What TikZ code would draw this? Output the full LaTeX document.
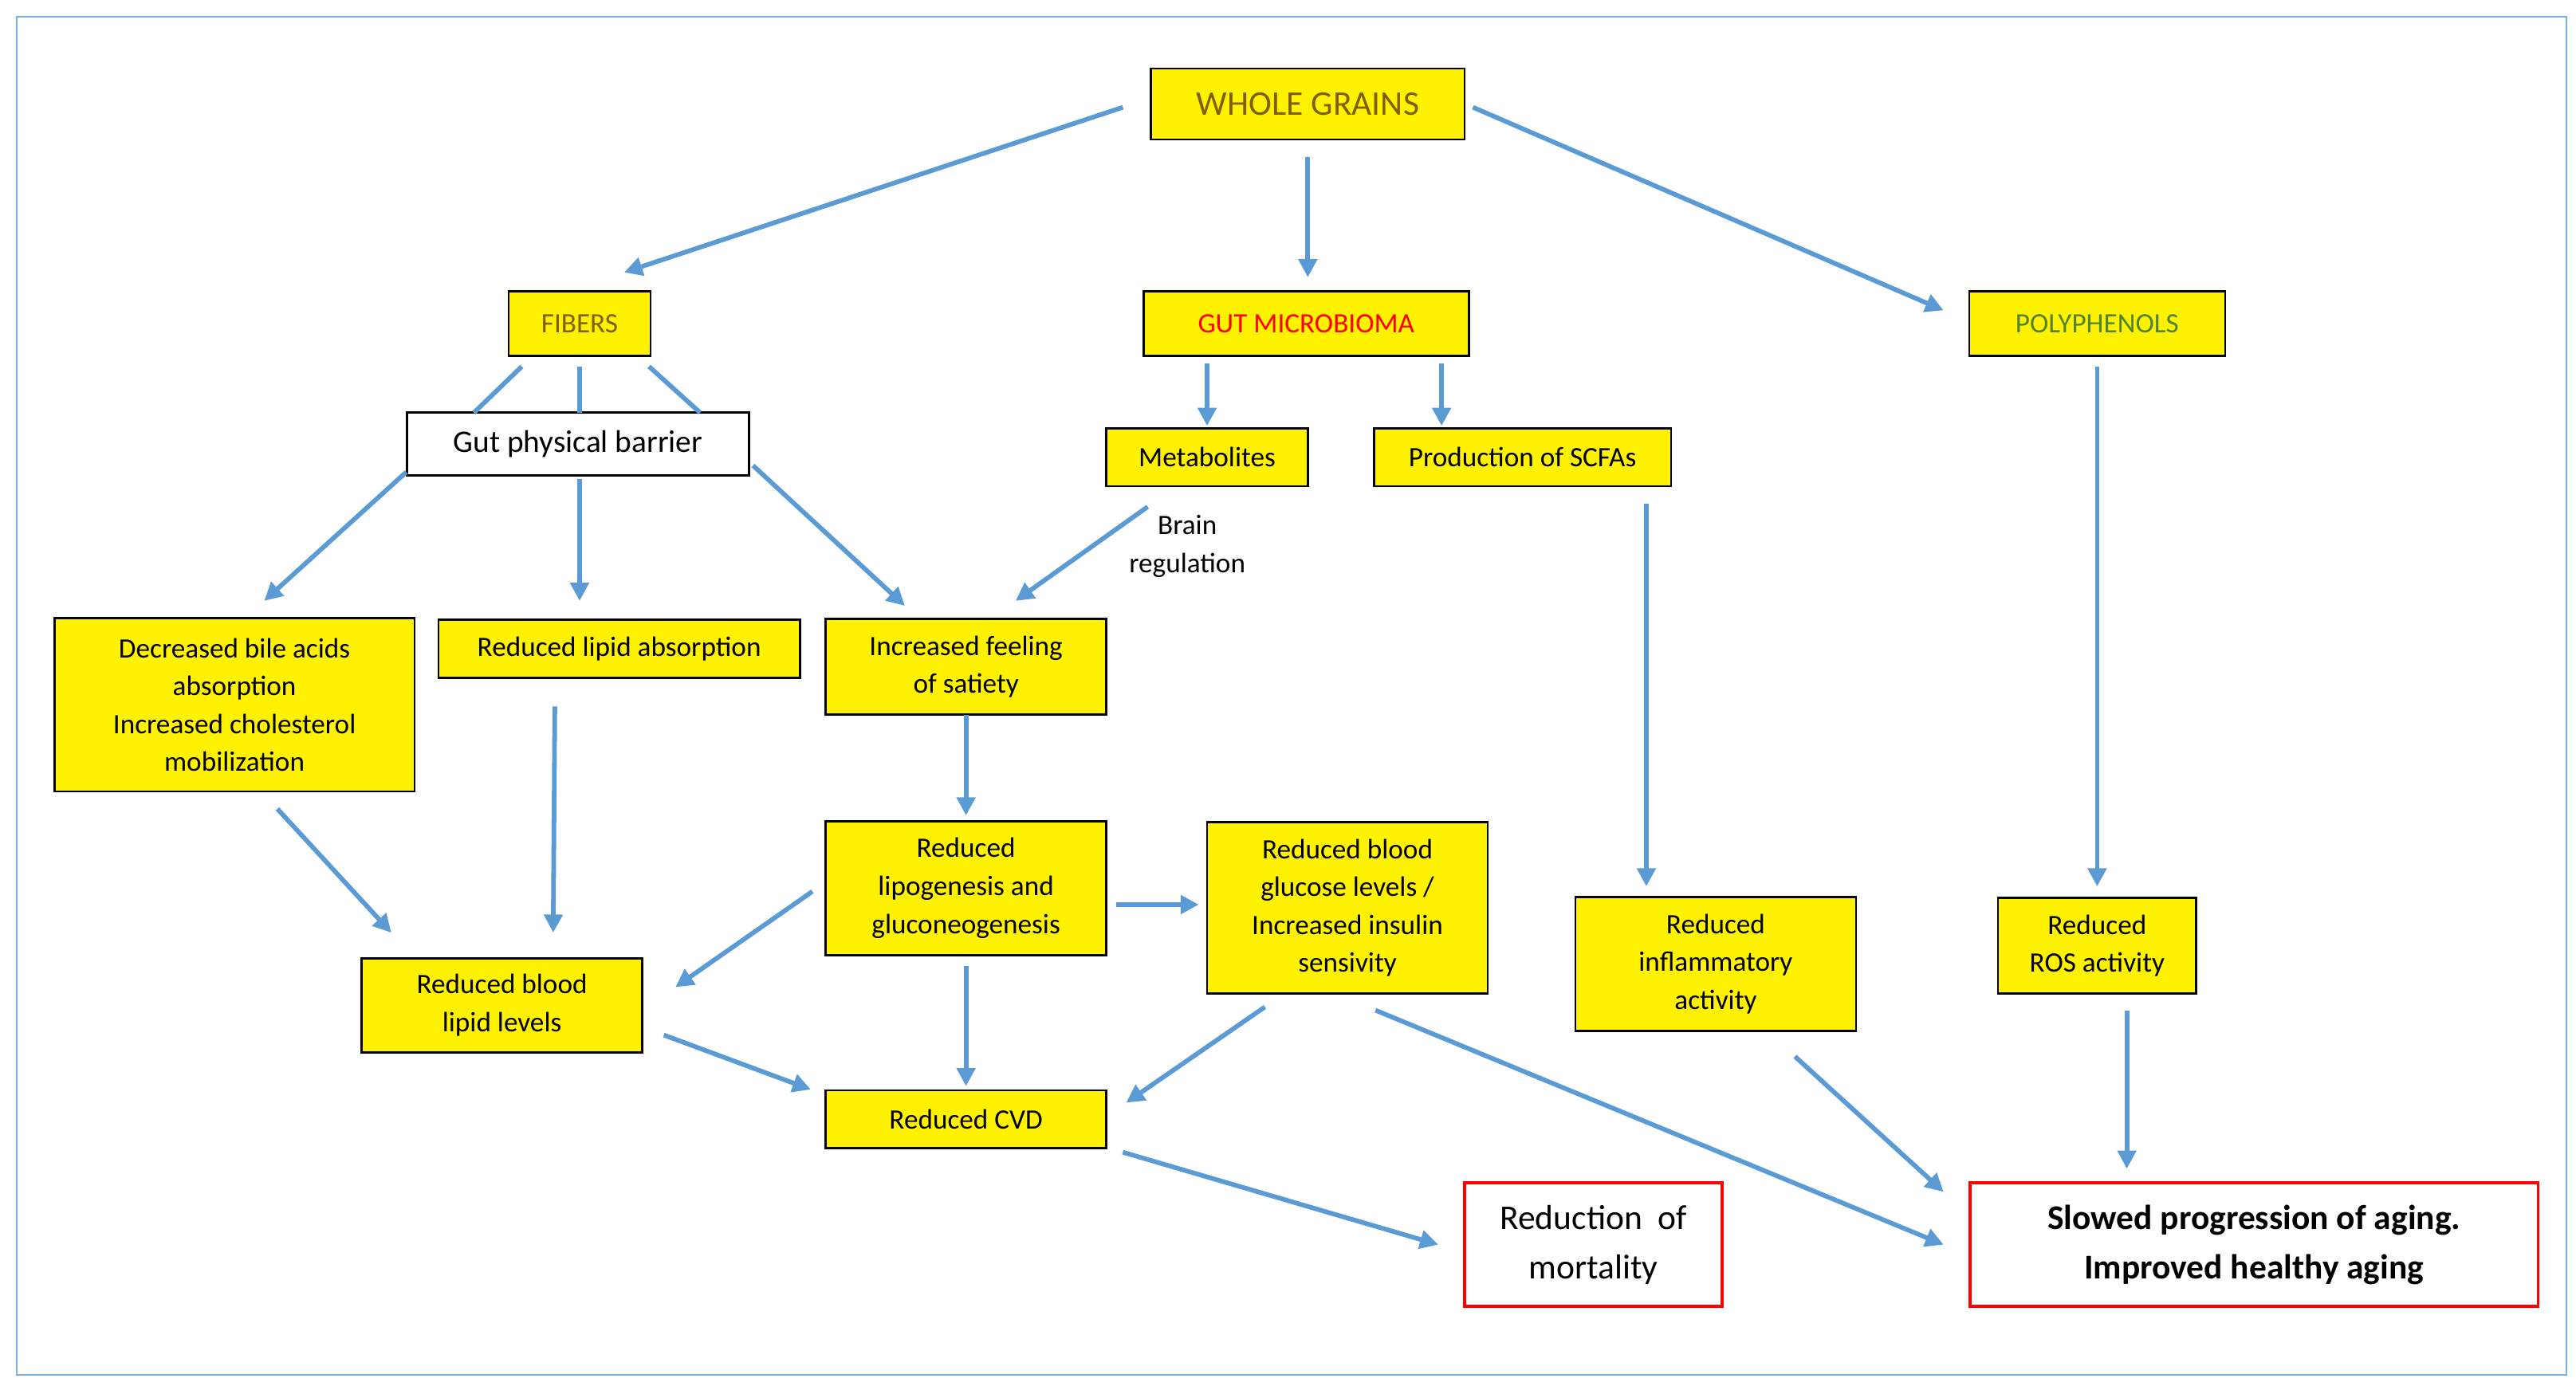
\documentclass[tikz,border=0pt]{standalone}
\usepackage{fontspec}
\setmainfont{Carlito}
\usetikzlibrary{arrows.meta}
\definecolor{arr}{HTML}{5B9BD5}
\definecolor{olivet}{HTML}{7F6000}
\definecolor{greent}{HTML}{548235}
\begin{document}
\begin{tikzpicture}[x=1pt,y=-1pt,
 box/.style={draw=black,line width=1.3pt,fill=yellow,align=center,inner sep=0pt,font=\fontsize{17}{23}\selectfont},
 wbox/.style={draw=red,line width=1.8pt,fill=white,align=center,inner sep=0pt,font=\fontsize{21}{30}\selectfont},
 ar/.style={draw=arr,line width=2.8pt,-{Triangle[length=11pt,width=11pt]}},
 ln/.style={draw=arr,line width=2.8pt}]
\useasboundingbox (0,0) rectangle (1560,842);
\draw[draw=arr!80,line width=1pt] (10,10) rectangle (1554,833);
\node[box,minimum width=190,minimum height=43,text=olivet,font=\fontsize{21}{26}\selectfont] (wg) at (792,63) {WHOLE GRAINS};
\node[box,minimum width=86,minimum height=39,text=olivet] (fib) at (351,196) {FIBERS};
\node[box,minimum width=197,minimum height=39,text=red] (gut) at (791,196) {GUT MICROBIOMA};
\node[box,minimum width=155,minimum height=39,text=greent] (pol) at (1270,196) {POLYPHENOLS};
\node[box,fill=white,minimum width=207,minimum height=38,font=\fontsize{19}{23}\selectfont] (bar) at (350,269) {Gut physical barrier};
\node[box,minimum width=122,minimum height=35] (met) at (731,277) {Metabolites};
\node[box,minimum width=180,minimum height=35] (scf) at (922,277) {Production of SCFAs};
\node[box,minimum width=218,minimum height=105] (bile) at (142,427) {Decreased bile acids\\absorption\\Increased cholesterol\\mobilization};
\node[box,minimum width=219,minimum height=35] (lip) at (375,393) {Reduced lipid absorption};
\node[box,minimum width=170,minimum height=58] (sat) at (585,404) {Increased feeling\\of satiety};
\node[box,minimum width=170,minimum height=81] (lipo) at (585,538) {Reduced\\lipogenesis and\\gluconeogenesis};
\node[box,minimum width=170,minimum height=104] (glu) at (816,550) {Reduced blood\\glucose levels /\\Increased insulin\\sensivity};
\node[box,minimum width=170,minimum height=81] (inf) at (1039,584) {Reduced\\inflammatory\\activity};
\node[box,minimum width=120,minimum height=58] (ros) at (1270,573) {Reduced\\ROS activity};
\node[box,minimum width=170,minimum height=57] (bl) at (304,609) {Reduced blood\\lipid levels};
\node[box,minimum width=170,minimum height=35] (cvd) at (585,678) {Reduced CVD};
\node[wbox,minimum width=156,minimum height=75] (mort) at (965,754) {Reduction\ \ of\\mortality};
\node[wbox,minimum width=344,minimum height=75,font=\fontsize{21}{30}\selectfont\bfseries] (aging) at (1365,754) {Slowed progression of aging.\\Improved healthy aging};
\node[align=center,font=\fontsize{17}{23}\selectfont] (brain) at (719,331) {Brain\\regulation};
\draw[ar] (680,65) -- (378,165);
\draw[ar] (792,95) -- (792,168);
\draw[ar] (892,65) -- (1177,188);
\draw[ln] (316,222) -- (287,250);
\draw[ln] (351,222) -- (351,250);
\draw[ln] (393,222) -- (424,250);
\draw[ar] (246,286) -- (160,364);
\draw[ar] (351,290) -- (351,364);
\draw[ar] (456,282) -- (548,367);
\draw[ar] (731,220) -- (731,258);
\draw[ar] (873,220) -- (873,258);
\draw[ar] (695,307) -- (615,364);
\draw[ar] (1270,222) -- (1270,537);
\draw[ar] (997,305) -- (997,537);
\draw[ar] (168,490) -- (237,565);
\draw[ar] (336,428) -- (335,565);
\draw[ar] (585,433) -- (585,494);
\draw[ar] (492,540) -- (409,598);
\draw[ar] (676,548) -- (726,548);
\draw[ar] (585,585) -- (585,658);
\draw[ar] (402,627) -- (491,660);
\draw[ar] (766,610) -- (682,668);
\draw[ar] (833,612) -- (1177,754);
\draw[ar] (1087,640) -- (1177,722);
\draw[ar] (1288,612) -- (1288,708);
\draw[ar] (680,698) -- (871,754);
\end{tikzpicture}
\end{document}
